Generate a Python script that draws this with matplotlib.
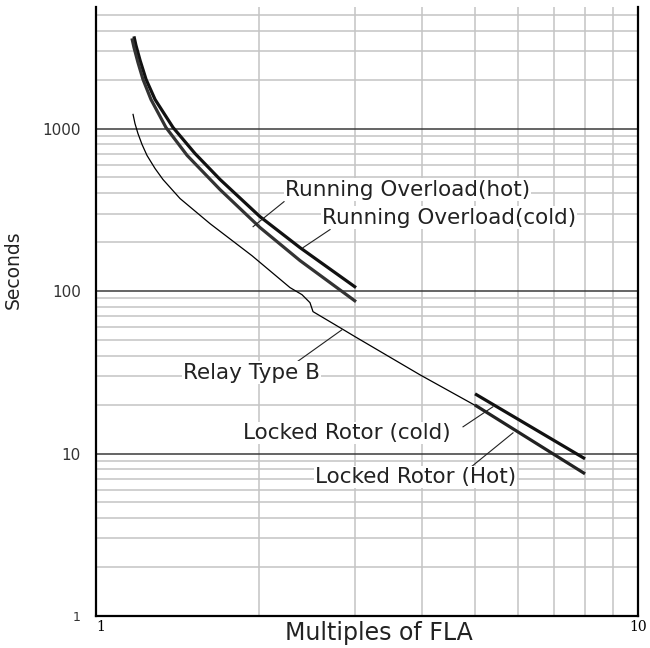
import numpy as np
import matplotlib
matplotlib.use("Agg")
import matplotlib.pyplot as plt
from matplotlib.ticker import LogLocator, NullFormatter, FixedLocator

# curves (multiples of FLA, seconds)
ro_hot_x = [1.175, 1.185, 1.206, 1.237, 1.285, 1.387, 1.523, 1.694, 2.007, 2.379, 3.018]
ro_hot_y = [3694, 3251, 2627, 2007, 1511, 1016, 702, 486, 287, 185, 105]

ro_cold_x = [1.165, 1.175, 1.195, 1.221, 1.263, 1.346, 1.473, 1.694, 2.007, 2.379, 3.018]
ro_cold_y = [3591, 3160, 2554, 2007, 1511, 1016, 683, 421, 246, 154, 86]

relay_x = [1.1705, 1.180, 1.195, 1.216, 1.242, 1.285, 1.329, 1.429, 1.623, 1.940,
           2.280, 2.399, 2.482, 2.514, 2.820, 3.005, 3.961, 5.176]
relay_y = [1222, 1075, 933, 798, 683, 568, 486, 371, 260, 165,
           105, 95.0, 84.8, 74.7, 59.5, 52.4, 30.5, 18.6]

lr_cold_x = [5.004, 7.985]
lr_cold_y = [23.3, 9.28]

lr_hot_x = [5.0, 7.985]
lr_hot_y = [19.9, 7.5]

# labels: text, text anchor (left, centre), leader start, leader end
labels = ["Running Overload(hot)", "Running Overload(cold)", "Relay Type B",
          "Locked Rotor (cold)", "Locked Rotor (Hot)"]
label_xy = [(2.232, 421), (2.612, 283), (1.447, 31.4), (1.867, 13.4), (2.536, 7.18)]
leader_from = [(2.223, 355), (2.703, 239), (2.309, 35.2), (4.755, 14.6), (4.898, 8.16)]
leader_to = [(1.949, 249), (2.41, 185), (2.844, 57.8), (5.40, 19.4), (5.88, 13.4)]

fig = plt.figure(figsize=(6.5, 6.48), dpi=100)
ax = fig.add_axes([96/650, 32/648, 542/650, 609/648])
ax.set_xscale('log')
ax.set_yscale('log')
ax.set_xlim(1, 10)
ax.set_ylim(1, 5600)

# grid
ax.xaxis.set_minor_locator(FixedLocator([2, 3, 4, 5, 6, 7, 8, 9]))
ax.xaxis.set_minor_formatter(NullFormatter())
ax.yaxis.set_minor_locator(LogLocator(base=10, subs=np.arange(2, 10)))
ax.yaxis.set_minor_formatter(NullFormatter())
ax.grid(which='minor', color='#c4c4c4', lw=1.1)
ax.grid(which='major', axis='y', color='#3a3a3a', lw=1.1)
ax.set_axisbelow(True)

ax.set_xticks([1, 10])
ax.set_xticklabels(['1', '10'], family='DejaVu Serif', fontsize=10)
ax.get_xticklabels()[0].set_horizontalalignment('left')
ax.set_yticks([1, 10, 100, 1000])
ax.set_yticklabels(['1', '10', '100', '1000'], fontsize=11, color='#333333')
ax.get_yticklabels()[0].set_fontsize(9)
ax.tick_params(which='both', length=0)
ax.tick_params(axis='y', pad=11)
ax.tick_params(axis='x', pad=3)

ax.spines['top'].set_visible(False)
for s in ['left', 'bottom', 'right']:
    ax.spines[s].set_linewidth(1.6)
    ax.spines[s].set_color('black')

# curves
ax.plot(ro_hot_x, ro_hot_y, color='#111111', lw=2.3, solid_capstyle='butt')
ax.plot(ro_cold_x, ro_cold_y, color='#333333', lw=2.3, solid_capstyle='butt')
ax.plot(relay_x, relay_y, color='black', lw=0.9)
ax.plot(lr_cold_x, lr_cold_y, color='#111111', lw=2.3, solid_capstyle='butt')
ax.plot(lr_hot_x, lr_hot_y, color='#222222', lw=2.3, solid_capstyle='butt')

for i in range(len(labels)):
    ax.text(label_xy[i][0], label_xy[i][1], labels[i], fontsize=15.5,
            ha='left', va='center', color='#222222',
            bbox=dict(facecolor='white', edgecolor='none', pad=1.0))
    ax.plot([leader_from[i][0], leader_to[i][0]],
            [leader_from[i][1], leader_to[i][1]], color='#222222', lw=0.8)

ax.set_xlabel('Multiples of FLA', fontsize=17, color='#222222')
ax.xaxis.set_label_coords(0.522, -0.008, transform=ax.transAxes)
ax.xaxis.label.set_verticalalignment('top')
ax.set_ylabel('Seconds', fontsize=13.5, color='#222222', labelpad=6)
ax.yaxis.set_label_coords(-0.135, 0.568)

fig.savefig('out.png', dpi=100)
